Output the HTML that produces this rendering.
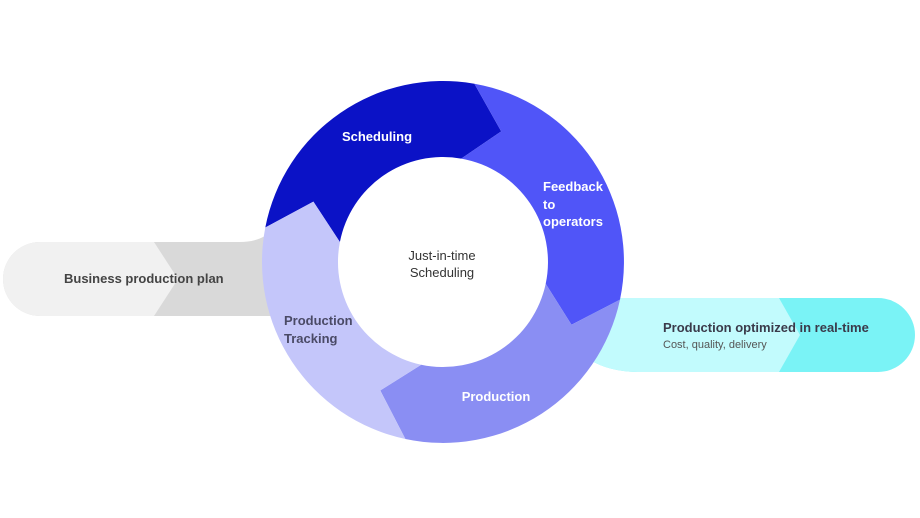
<!DOCTYPE html>
<html><head><meta charset="utf-8"><style>
html,body{margin:0;padding:0;background:#fff;}
svg{display:block;font-family:"Liberation Sans",sans-serif;}
</style></head><body>
<svg width="920" height="518" viewBox="0 0 920 518" xmlns="http://www.w3.org/2000/svg">
<!-- left pill -->
<path d="M40 242 H240 Q262 242 275 228 L300 228 V316 H40 A37 37 0 0 1 40 242 Z" fill="#d9d9d9"/>
<path d="M40 242 H154 L178 279 L154 316 H40 A37 37 0 0 1 40 242 Z" fill="#f1f1f1"/>
<!-- right pill -->
<path d="M590 298 H878 A37 37 0 0 1 878 372 H640 Q610 372 590 360 Z" fill="#7af3f6"/>
<path d="M590 298 H779 L800 335 L779 372 H640 Q610 372 590 360 Z" fill="#c2fbfd"/>
<g id="ring"></g>
<text x="377" y="141" fill="#fff" font-size="13" font-weight="bold" text-anchor="middle">Scheduling</text>
<text fill="#fff" font-size="13" font-weight="bold"><tspan x="543" y="191">Feedback</tspan><tspan x="543" y="209">to</tspan><tspan x="543" y="226">operators</tspan></text>
<text fill="#333" font-size="13" text-anchor="middle"><tspan x="442" y="260">Just-in-time</tspan><tspan x="442" y="277">Scheduling</tspan></text>
<text fill="#4a4a66" font-size="13" font-weight="bold"><tspan x="284" y="325">Production</tspan><tspan x="284" y="343">Tracking</tspan></text>
<text x="496" y="401" fill="#fff" font-size="13" font-weight="bold" text-anchor="middle">Production</text>
<text x="64" y="283" fill="#444" font-size="13" font-weight="bold">Business production plan</text>
<text x="663" y="332" fill="#3a3a4a" font-size="13" font-weight="bold">Production optimized in real-time</text>
<text x="663" y="348" fill="#555" font-size="11">Cost, quality, delivery</text>
<script>
(function(){
var cx=443,cy=262,R=181,r=105,m=143,t=14;
function p(rad,a){a=a*Math.PI/180;return (cx+rad*Math.cos(a)).toFixed(1)+" "+(cy+rad*Math.sin(a)).toFixed(1);}
var segs=[[191,280,"#0b12c6"],[280,372,"#5055f8"],[372,462,"#8a8ef3"],[462,551,"#c4c6fa"]];
var g=document.getElementById("ring"),ns="http://www.w3.org/2000/svg";
segs.forEach(function(s){
var a=s[0],b=s[1];
var d="M"+p(R,a)+" A"+R+" "+R+" 0 0 1 "+p(R,b)+" L"+p(m,b+t)+" L"+p(r,b)+" A"+r+" "+r+" 0 0 0 "+p(r,a)+" L"+p(m,a+t)+" Z";
var e=document.createElementNS(ns,"path");e.setAttribute("d",d);e.setAttribute("fill",s[2]);g.appendChild(e);
});
})();
</script>
</svg>
</body></html>
